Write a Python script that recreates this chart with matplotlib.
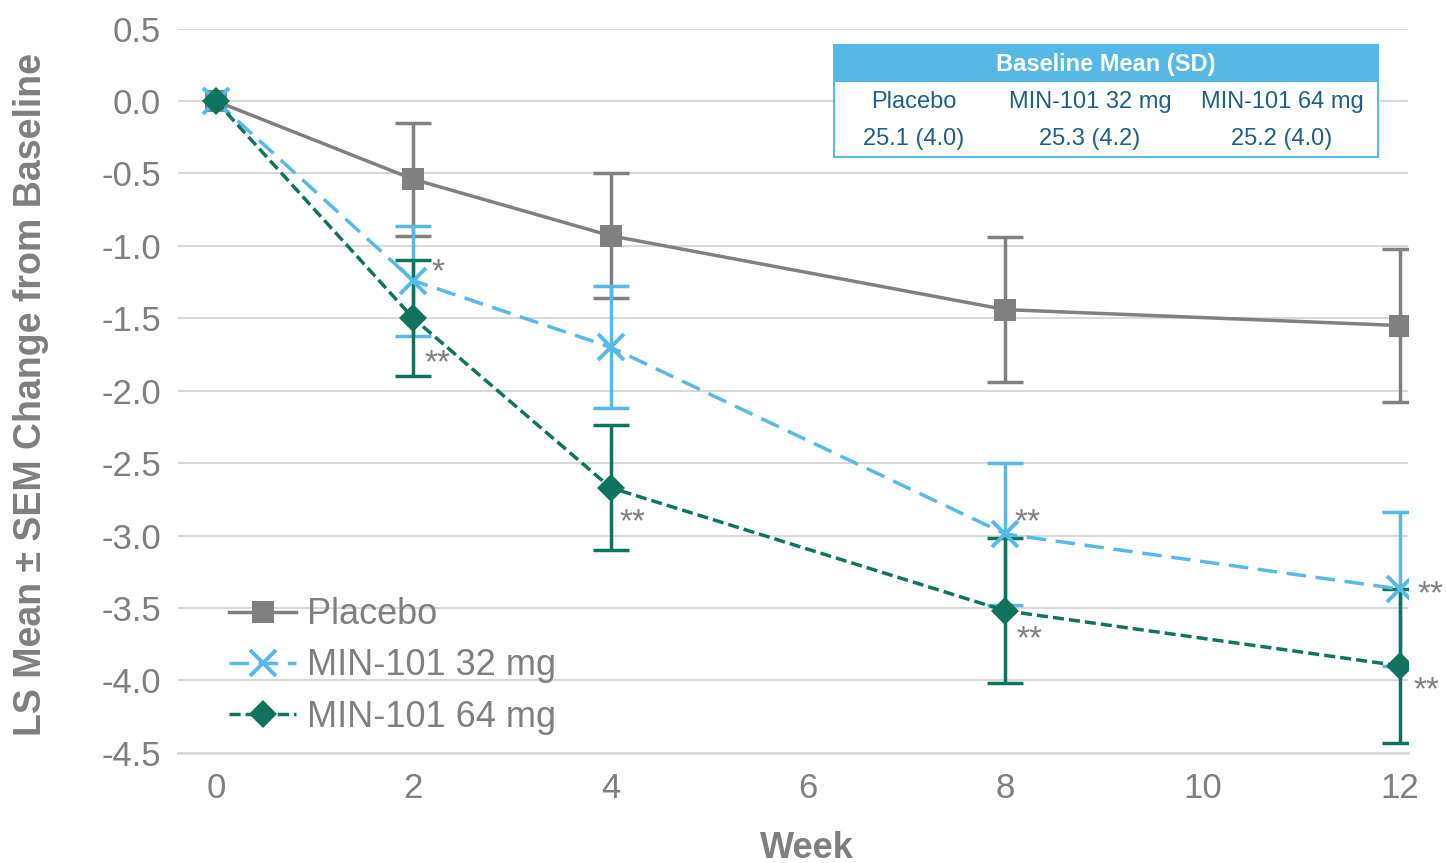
import matplotlib
matplotlib.use("Agg")
import matplotlib.pyplot as plt
from matplotlib.patches import Rectangle

plt.rcParams['font.family'] = ['Liberation Sans', 'DejaVu Sans']
plt.rcParams['axes.unicode_minus'] = False
plt.rcParams['lines.scale_dashes'] = False

# LS mean change from baseline and SEM by week
weeks = [0, 2, 4, 8, 12]
placebo = [0.0, -0.54, -0.93, -1.44, -1.55]
placebo_sem = [0.0, 0.39, 0.43, 0.50, 0.53]
mg32 = [0.0, -1.24, -1.70, -2.99, -3.37]
mg32_sem = [0.0, 0.38, 0.42, 0.49, 0.53]
mg64 = [0.0, -1.50, -2.67, -3.52, -3.90]
mg64_sem = [0.0, 0.40, 0.43, 0.50, 0.53]

# significance markers vs placebo
mg32_sig = ['', '*', '', '**', '**']
mg64_sig = ['', '**', '**', '**', '**']

series_names = ['Placebo', 'MIN-101 32 mg', 'MIN-101 64 mg']
baseline_mean_sd = ['25.1 (4.0)', '25.3 (4.2)', '25.2 (4.0)']

GREY = '#808080'
LBLUE = '#56b9e8'
DGREEN = '#0f7360'
TXT = '#7f7f7f'

fig = plt.figure(figsize=(14.46, 8.63), dpi=100)
ax = fig.add_axes([178 / 1446, 1 - 752.7 / 863, (1408 - 178) / 1446, (752.7 - 28.7) / 863])

ax.set_xlim(-0.385, 12.08)
ax.set_ylim(-4.5, 0.5)
ax.set_xticks([0, 2, 4, 6, 8, 10, 12])
ax.set_yticks([0.5, 0.0, -0.5, -1.0, -1.5, -2.0, -2.5, -3.0, -3.5, -4.0, -4.5])
ax.set_yticklabels(['{:.1f}'.format(v) for v in ax.get_yticks()])
ax.tick_params(length=0, labelsize=25, labelcolor=TXT)
ax.tick_params(axis='y', pad=12)
ax.tick_params(axis='x', pad=14)
ax.yaxis.grid(True, color='#d9d9d9', linewidth=1.5)
ax.set_axisbelow(True)
for s in ['left', 'right', 'top']:
    ax.spines[s].set_visible(False)
ax.spines['bottom'].set_color('#d9d9d9')
ax.spines['bottom'].set_linewidth(2)

styles = [
    dict(data=placebo, sem=placebo_sem, color=GREY, marker='s', ms=16, mew=0,
         ls='-', dashes=None),
    dict(data=mg32, sem=mg32_sem, color=LBLUE, marker='x', ms=19, mew=2.8,
         ls='--', dashes=(14, 7)),
    dict(data=mg64, sem=mg64_sem, color=DGREEN, marker='D', ms=14.5, mew=0,
         ls='--', dashes=(8, 3.6)),
]

handles = []
for name, st in zip(series_names, styles):
    ax.errorbar(weeks[1:], st['data'][1:], yerr=st['sem'][1:], fmt='none',
                ecolor=st['color'], elinewidth=2.5, capsize=13, capthick=2.5, zorder=3)
    kw = dict(color=st['color'], lw=2.5, marker=st['marker'], ms=st['ms'],
              mew=st['mew'], mec=st['color'], mfc=st['color'], label=name, zorder=4)
    if st['dashes'] is not None:
        kw['dashes'] = st['dashes']
    line, = ax.plot(weeks, st['data'], **kw)
    handles.append(line)

# asterisk positions (pixel offsets from each point)
sig_offsets_32 = [None, (18, -13), None, (9, -17), (17, 0)]
sig_offsets_64 = [None, (11, 40), (9, 30), (11, 23), (13, 19)]
for vals, sig, offs in [(mg32, mg32_sig, sig_offsets_32), (mg64, mg64_sig, sig_offsets_64)]:
    for w, v, s, o in zip(weeks, vals, sig, offs):
        if not s:
            continue
        ax.annotate(s, xy=(w, v), xytext=(o[0], -(o[1] + 14)), textcoords='offset pixels',
                    ha='left', va='baseline', fontsize=24, color=TXT, zorder=5,
                    annotation_clip=False)

leg = ax.legend(handles=handles, loc='lower left', bbox_to_anchor=(0.027, 0.0),
                frameon=False, fontsize=26, labelcolor=TXT, handlelength=1.85,
                handletextpad=0.3, labelspacing=0.45, borderaxespad=0.1)

fig.text(807 / 1446, 1 - 848 / 863, 'Week', ha='center', va='center',
         fontsize=26, fontweight='bold', color=TXT)
fig.text(31 / 1446, 1 - 394 / 863, 'LS Mean ± SEM Change from Baseline', ha='center',
         va='center', rotation=90, fontsize=27, fontweight='bold', color=TXT)

# baseline table
W, H = 1446, 863
tx0, tx1, ty0, ty1, thead = 834, 1378, 45, 157, 82
fig.patches.append(Rectangle((tx0 / W, 1 - ty1 / H), (tx1 - tx0) / W, (ty1 - ty0) / H,
                             transform=fig.transFigure, facecolor='white',
                             edgecolor=LBLUE, linewidth=1.5, zorder=5))
fig.patches.append(Rectangle((tx0 / W, 1 - thead / H), (tx1 - tx0) / W, (thead - ty0) / H,
                             transform=fig.transFigure, facecolor='#56b8e6',
                             edgecolor='none', zorder=6))
fig.text((tx0 + tx1) / 2 / W, 1 - 65 / H, 'Baseline Mean (SD)', ha='center', va='center',
         fontsize=17, fontweight='bold', color='white', zorder=7)
col_x = [914, 1090, 1282]
for cx, name, val in zip(col_x, series_names, baseline_mean_sd):
    fig.text(cx / W, 1 - 102 / H, name, ha='center', va='center', fontsize=17,
             color='#1f5f87', zorder=7)
    fig.text(cx / W, 1 - 139 / H, val, ha='center', va='center', fontsize=17,
             color='#1f5f87', zorder=7)

fig.savefig('out.png', dpi=100)
